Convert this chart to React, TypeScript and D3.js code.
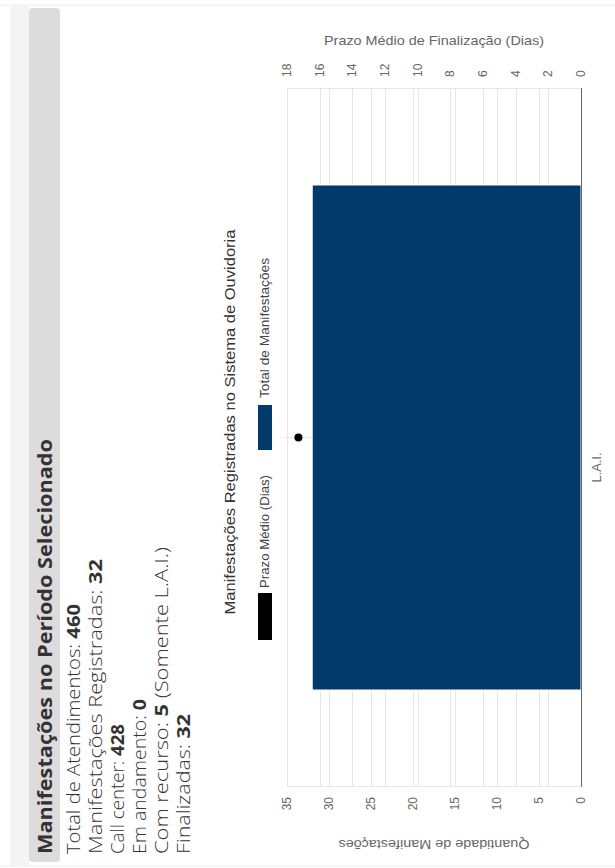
import React from 'react';
import * as d3 from 'd3';

const categories = ['L.A.I.'];
const totalManifestacoes = [32];
const prazoMedioDias = [17.3];
const leftTicks = [0, 5, 10, 15, 20, 25, 30, 35];
const rightTicks = [0, 2, 4, 6, 8, 10, 12, 14, 16, 18];
const summaryLabels = ['Total de Atendimentos: ', 'Manifestações Registradas: ', 'Call center: ', 'Em andamento: ', 'Com recurso: ', 'Finalizadas: '];
const summaryValues = ['460', '32', '428', '0', '5', '32'];
const summarySuffix = ['', '', '', '', ' (Somente L.A.I.)', ''];
const summaryWidths = [250, 295, 130, 155, 307, 140];

const W = 868; // unrotated width
const H = 615; // unrotated height
const PL = 81, PR = 780, PT = 287, PB = 581;
const BAR_BLUE = '#023a6c';
const CHART_FONT = '"Liberation Sans", Arial, sans-serif';
const PANEL_FONT = '"Open Sans", "Noto Sans", sans-serif';
const ADJ = 'spacingAndGlyphs';

export default function App() {
  const x = d3.scaleBand().domain(categories).range([PL, PR]).padding(0);
  const yLeft = d3.scaleLinear().domain([0, 35]).range([PB, PT]);
  const yRight = d3.scaleLinear().domain([0, 18]).range([PB, PT]);
  const barFrac = 0.7225;

  return (
    <svg width={615} height={868} style={{ position: 'absolute', left: 0, top: 0, background: '#fff' }}>
      <g transform={`translate(0,${W}) rotate(-90)`}>
        {/* page frame */}
        <rect x={0} y={0} width={W} height={H} fill="#fff" />
        <line x1={2} x2={2} y1={0} y2={H} stroke="#ececec" />
        <line x1={863} x2={863} y1={0} y2={H} stroke="#ececec" />
        <rect x={2} y={10} width={861} height={19} fill="#f4f4f4" />
        <rect x={6} y={29} width={854} height={31} rx={4} fill="#dcdcdc" />
        <text x={14} y={52} fontFamily={PANEL_FONT} fontSize={20} fontWeight={700} fill="#333" textLength={415} lengthAdjust={ADJ}>
          Manifestações no Período Selecionado
        </text>
        {summaryLabels.map((lab, i) => (
          <text key={i} x={14} y={80 + i * 22} fontFamily={PANEL_FONT} fontSize={18} fontWeight={300} fill="#333" textLength={summaryWidths[i]} lengthAdjust={ADJ}>
            {lab}
            <tspan fontWeight={700}>{summaryValues[i]}</tspan>
            {summarySuffix[i]}
          </text>
        ))}

        {/* chart title */}
        <text x={446} y={235} textAnchor="middle" fontFamily={CHART_FONT} fontSize={14} fill="#333" textLength={385} lengthAdjust={ADJ}>
          Manifestações Registradas no  Sistema de Ouvidoria
        </text>
        {/* legend */}
        <rect x={228} y={258} width={47} height={14} fill="#000" />
        <text x={280} y={269} fontFamily={CHART_FONT} fontSize={12.5} fill="#444" textLength={113} lengthAdjust={ADJ}>Prazo Médio (Dias)</text>
        <rect x={418} y={258} width={45} height={14} fill={BAR_BLUE} />
        <text x={470} y={269} fontFamily={CHART_FONT} fontSize={12.5} fill="#444" textLength={140} lengthAdjust={ADJ}>Total de Manifestações</text>

        {/* gridlines */}
        {leftTicks.map((t) => (
          <line key={'gl' + t} x1={PL} x2={PR} y1={Math.round(yLeft(t)) + 0.5} y2={Math.round(yLeft(t)) + 0.5} stroke="#e6e6e6" />
        ))}
        {rightTicks.map((t) => (
          <line key={'gr' + t} x1={PL} x2={PR} y1={Math.round(yRight(t)) + 0.5} y2={Math.round(yRight(t)) + 0.5} stroke="#e6e6e6" />
        ))}
        <line x1={PL + 0.5} x2={PL + 0.5} y1={PT} y2={PB} stroke="#e6e6e6" />
        <line x1={PR - 0.5} x2={PR - 0.5} y1={PT} y2={PB} stroke="#e6e6e6" />

        {/* bars */}
        {categories.map((c, i) => {
          const bw = x.bandwidth() * barFrac;
          const cx = (x(c) as number) + x.bandwidth() / 2;
          const y0 = yLeft(totalManifestacoes[i]);
          return (
            <rect key={c} x={cx - bw / 2} y={y0} width={bw} height={PB - y0} fill={BAR_BLUE} stroke="#fff" strokeWidth={1} />
          );
        })}
        {/* x axis line */}
        <line x1={PL} x2={PR} y1={PB + 0.5} y2={PB + 0.5} stroke="#666" />

        {/* line series marker */}
        {categories.map((c, i) => {
          const cx = (x(c) as number) + x.bandwidth() / 2;
          const cy = yRight(prazoMedioDias[i]);
          return (
            <g key={'m' + c}>
              <line x1={cx} x2={cx} y1={cy - 15} y2={cy + 12} stroke="#e4e4e4" strokeWidth={1} />
              <circle cx={cx} cy={cy} r={4} fill="#000" />
            </g>
          );
        })}

        {/* category labels */}
        {categories.map((c) => (
          <text key={'xl' + c} x={(x(c) as number) + x.bandwidth() / 2 - 30} y={601} textAnchor="middle" fontFamily={CHART_FONT} fontSize={12} fill="#666" textLength={30} lengthAdjust={ADJ}>{c}</text>
        ))}

        {/* left axis */}
        {leftTicks.map((t) => (
          <text key={'ll' + t} x={71} y={yLeft(t) + 4} textAnchor="end" fontFamily={CHART_FONT} fontSize={12} fill="#666">{t}</text>
        ))}
        <text transform={`translate(28,${(PT + PB) / 2}) rotate(-90)`} textAnchor="middle" fontFamily={CHART_FONT} fontSize={13} fill="#666" textLength={191} lengthAdjust={ADJ}>
          Quantidade de Manifestações
        </text>

        {/* right axis */}
        {rightTicks.map((t) => (
          <text key={'rl' + t} x={791} y={yRight(t) + 4} textAnchor="start" fontFamily={CHART_FONT} fontSize={12} fill="#666">{t}</text>
        ))}
        <text transform={`translate(823,${(PT + PB) / 2}) rotate(90)`} textAnchor="middle" fontFamily={CHART_FONT} fontSize={13} fill="#666" textLength={220} lengthAdjust={ADJ}>
          Prazo Médio de Finalização (Dias)
        </text>
      </g>
    </svg>
  );
}
